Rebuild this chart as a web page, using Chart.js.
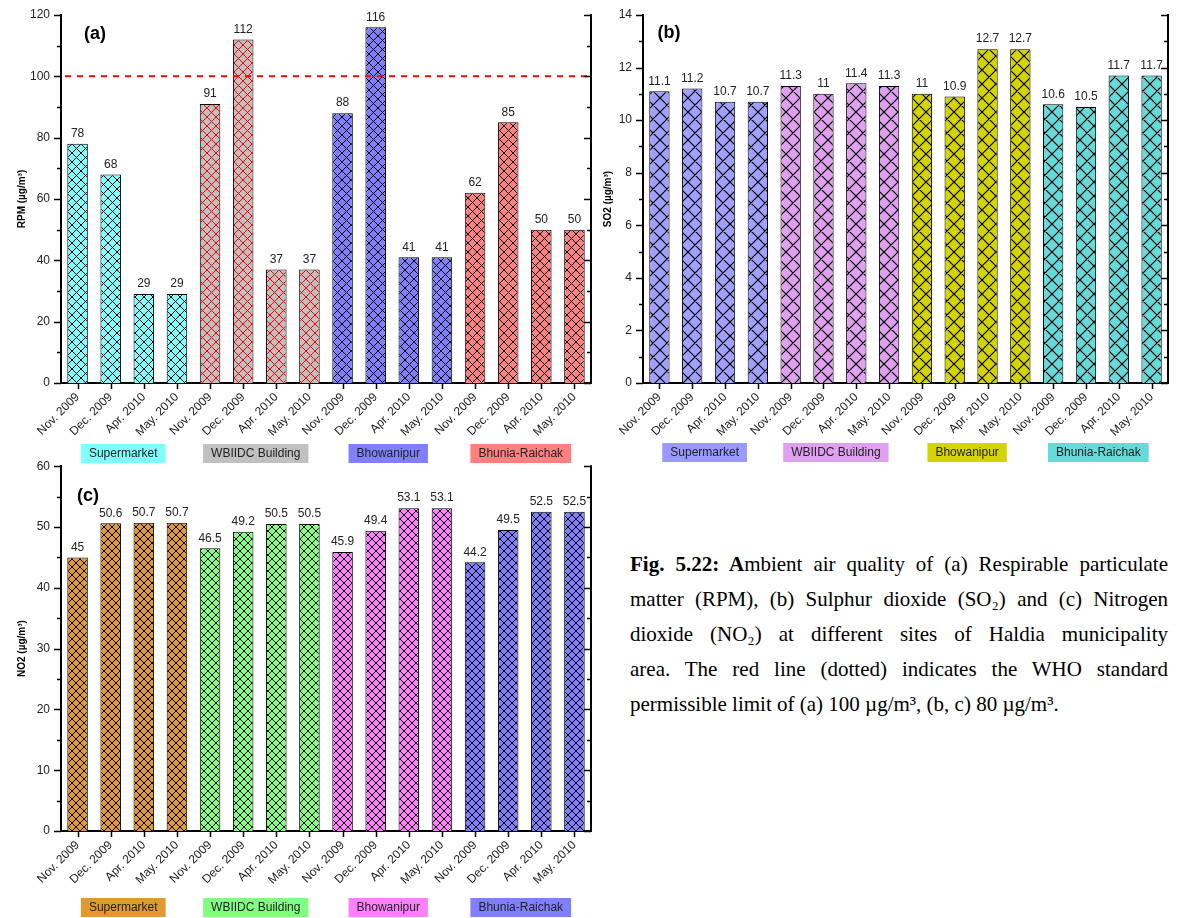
<!DOCTYPE html>
<html><head><meta charset="utf-8">
<script src="https://cdn.jsdelivr.net/npm/chart.js@4.4.1/dist/chart.umd.min.js"></script>
<style>
html,body{margin:0;padding:0;background:#fff;}
body{width:1178px;height:918px;position:relative;overflow:hidden;}
canvas{position:absolute;}
#caption{position:absolute;left:630px;top:547px;width:538px;font-family:'Liberation Serif','Times New Roman',serif;font-size:21px;line-height:35px;color:#000;}
#caption div{white-space:nowrap;text-align:justify;text-align-last:justify;}
#caption div.last{text-align:left;text-align-last:left;}
</style></head><body>
<canvas id="ca" width="600" height="475" style="left:0;top:0"></canvas>
<canvas id="cb" width="588" height="475" style="left:590px;top:0"></canvas>
<canvas id="cc" width="600" height="463" style="left:0;top:455px"></canvas>
<div id="caption">
<div><b>Fig. 5.22: A</b>mbient air quality of (a) Respirable particulate</div>
<div>matter (RPM), (b) Sulphur dioxide (SO₂) and (c) Nitrogen</div>
<div>dioxide (NO₂) at different sites of Haldia municipality</div>
<div>area. The red line (dotted) indicates the WHO standard</div>
<div class="last">permissible limit of (a) 100 µg/m³, (b, c) 80 µg/m³.</div>
</div>
<script>
const categories = ["Nov. 2009","Dec. 2009","Apr. 2010","May. 2010",
                    "Nov. 2009","Dec. 2009","Apr. 2010","May. 2010",
                    "Nov. 2009","Dec. 2009","Apr. 2010","May. 2010",
                    "Nov. 2009","Dec. 2009","Apr. 2010","May. 2010"];
const sites = ["Supermarket","WBIIDC Building","Bhowanipur","Bhunia-Raichak"];
const rpmValues = [78,68,29,29, 91,112,37,37, 88,116,41,41, 62,85,50,50];
const so2Values = [11.1,11.2,10.7,10.7, 11.3,11,11.4,11.3, 11,10.9,12.7,12.7, 10.6,10.5,11.7,11.7];
const no2Values = [45,50.6,50.7,50.7, 46.5,49.2,50.5,50.5, 45.9,49.4,53.1,53.1, 44.2,49.5,52.5,52.5];
const rpmTicks = [0,20,40,60,80,100,120];
const so2Ticks = [0,2,4,6,8,10,12,14];
const no2Ticks = [0,10,20,30,40,50,60];
const rpmLimit = 100;

Chart.defaults.font.family = "'Liberation Sans', Arial, sans-serif";
Chart.defaults.color = '#222';

function hatch(fill, line, size, lw){
  const c = document.createElement('canvas'); c.width = size; c.height = size;
  const x = c.getContext('2d');
  x.fillStyle = fill; x.fillRect(0,0,size,size);
  x.strokeStyle = line; x.lineWidth = lw;
  x.beginPath();
  for (const k of [-1,0,1]) {
    x.moveTo(k*size, 0); x.lineTo(k*size+size, size);
    x.moveTo(k*size+size, 0); x.lineTo(k*size, size);
  }
  x.stroke();
  return x.createPattern(c, 'repeat');
}

function decoPlugin(cfg){
  return {
    id: 'deco',
    afterDatasetsDraw(chart){
      const {ctx, chartArea: a, scales: {x, y}} = chart;
      const meta = chart.getDatasetMeta(0);
      ctx.save();
      if (cfg.limit != null) {
        const py = y.getPixelForValue(cfg.limit);
        ctx.strokeStyle = '#ff0000'; ctx.lineWidth = 2; ctx.setLineDash([6,6]);
        ctx.beginPath(); ctx.moveTo(a.left + 4, py); ctx.lineTo(a.right, py); ctx.stroke();
        ctx.setLineDash([]);
      }
      ctx.strokeStyle = '#000'; ctx.lineWidth = 2;
      ctx.beginPath(); ctx.moveTo(a.right, a.top - 1); ctx.lineTo(a.right, a.bottom); ctx.stroke();
      ctx.lineWidth = 1.5;
      y.ticks.forEach(t => {
        const py = Math.round(y.getPixelForValue(t.value)) + 0.5;
        const major = cfg.majors.includes(t.value);
        const len = major ? 7 : 4;
        ctx.beginPath();
        ctx.moveTo(a.left - len, py); ctx.lineTo(a.left, py);
        ctx.moveTo(a.right - len, py); ctx.lineTo(a.right, py);
        ctx.stroke();
      });
      meta.data.forEach((bar, i) => {
        const px = Math.round(x.getPixelForValue(i)) + 0.5;
        ctx.beginPath(); ctx.moveTo(px, a.bottom); ctx.lineTo(px, a.bottom + 6); ctx.stroke();
      });
      ctx.fillStyle = '#222'; ctx.font = "12px 'Liberation Sans', Arial";
      ctx.textAlign = 'center'; ctx.textBaseline = 'bottom';
      meta.data.forEach((bar, i) => {
        ctx.fillText(String(cfg.values[i]), bar.x, bar.y - 4);
      });
      ctx.fillStyle = '#000'; ctx.font = "bold 18px 'Liberation Sans', Arial";
      ctx.textBaseline = 'middle';
      ctx.fillText(cfg.panel, a.left + cfg.panelDx, a.top + cfg.panelDy);
      ctx.font = "12px 'Liberation Sans', Arial";
      sites.forEach((s, g) => {
        let sum = 0;
        for (let k = 0; k < 4; k++) sum += meta.data[g*4+k].x;
        const cx = sum / 4 - 4;
        const w = ctx.measureText(s).width + 16;
        const top = a.bottom + cfg.legendDy;
        ctx.fillStyle = cfg.legendColors[g];
        ctx.fillRect(cx - w/2, top, w, 19);
        ctx.fillStyle = '#222';
        ctx.fillText(s, cx, top + 10);
      });
      ctx.restore();
    }
  };
}

function makeChart(id, cfg){
  const pats = cfg.colors.map((c, g) => hatch(c, cfg.hatchColors[g], cfg.hatchSize, cfg.hatchLw));
  const bg = categories.map((_, i) => pats[Math.floor(i / 4)]);
  return new Chart(document.getElementById(id), {
    type: 'bar',
    data: {labels: categories, datasets: [{data: cfg.values, backgroundColor: bg, borderColor: '#000', borderWidth: 1, barPercentage: 0.62, categoryPercentage: 1}]},
    options: {
      responsive: false, animation: false, devicePixelRatio: 1,
      layout: {padding: {left: 0, right: cfg.padRight, top: cfg.padTop, bottom: 0}},
      plugins: {legend: {display: false}, tooltip: {enabled: false}},
      scales: {
        x: {
          offset: true,
          grid: {display: false, drawTicks: true, tickLength: 6, offset: false},
          border: {display: true, color: '#000', width: 2},
          ticks: {autoSkip: false, maxRotation: 45, minRotation: 45, padding: 1, font: {size: 12}, color: '#222'},
          afterFit: s => { s.height = cfg.xHeight; }
        },
        y: {
          min: 0, max: cfg.majors[cfg.majors.length - 1],
          ticks: {stepSize: cfg.minor, autoSkip: false, callback: v => cfg.majors.includes(v) ? String(v) : '', padding: 4, font: {size: 12}, color: '#222'},
          grid: {display: false, drawTicks: true, tickLength: 7},
          border: {display: true, color: '#000', width: 2},
          title: {display: true, text: cfg.title, font: {size: 10, weight: 'bold'}, color: '#000', padding: {top: cfg.titlePad, bottom: 0}},
          afterFit: s => { s.width = cfg.yWidth; }
        }
      }
    },
    plugins: [decoPlugin(cfg)]
  });
}

makeChart('ca', {
  values: rpmValues, majors: rpmTicks, minor: 10, limit: rpmLimit,
  colors: ['#80ffff','#c0c0c0','#8080ff','#ff8080'],
  hatchColors: ['#000','#ff0000','#000','#000'],
  legendColors: ['#80ffff','#c0c0c0','#8080ff','#ff8080'],
  hatchSize: 9, hatchLw: 1,
  padRight: 9, padTop: 15, xHeight: 92, yWidth: 61,
  title: 'RPM (µg/m³)', titlePad: 16,
  panel: '(a)', panelDx: 34, panelDy: 19, legendDy: 61
});
makeChart('cb', {
  values: so2Values, majors: so2Ticks, minor: 1, limit: null,
  colors: ['#a0a0ff','#e0a0f0','#d4d400','#66d9d9'],
  hatchColors: ['#000','#000','#000','#000'],
  legendColors: ['#9999ff','#e0a0f0','#d4d400','#66d9d9'],
  hatchSize: 14, hatchLw: 1.2,
  padRight: 10, padTop: 15, xHeight: 92, yWidth: 53,
  title: 'SO2 (µg/m³)', titlePad: 12,
  panel: '(b)', panelDx: 26, panelDy: 18, legendDy: 60
});
makeChart('cc', {
  values: no2Values, majors: no2Ticks, minor: 5, limit: null,
  colors: ['#e09a30','#80ff80','#ff80ff','#8080ff'],
  hatchColors: ['#000','#000','#000','#000'],
  legendColors: ['#e09a30','#80ff80','#ff80ff','#8080ff'],
  hatchSize: 8, hatchLw: 1,
  padRight: 9, padTop: 8, xHeight: 87, yWidth: 61,
  title: 'NO2 (µg/m³)', titlePad: 16,
  panel: '(c)', panelDx: 27, panelDy: 30, legendDy: 67
});
</script>
</body></html>
